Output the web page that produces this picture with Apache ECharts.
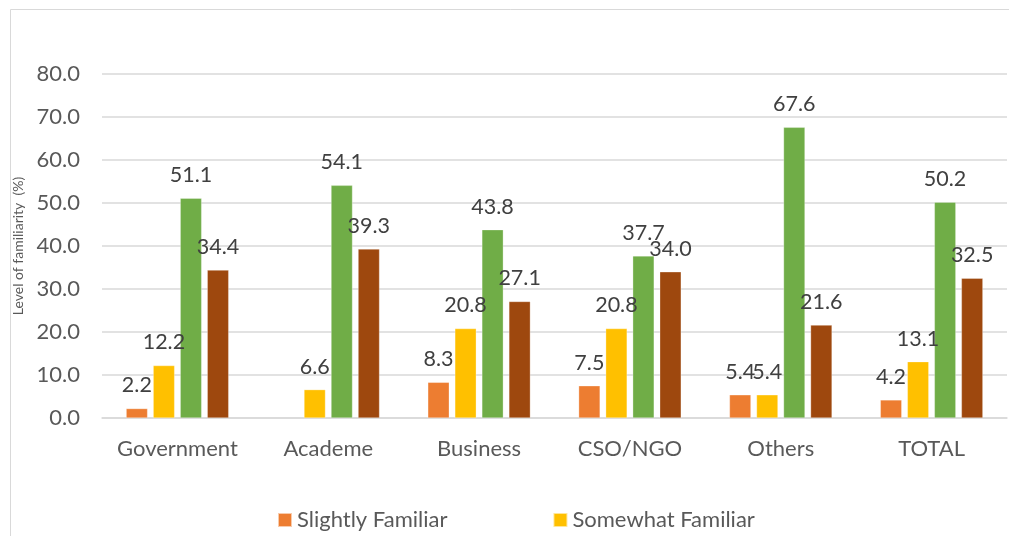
<!DOCTYPE html>
<html>
<head>
<meta charset="utf-8">
<script src="https://cdn.jsdelivr.net/npm/echarts@6/dist/echarts.min.js"></script>
<style>
  html, body { margin: 0; padding: 0; background: #fff; }
  #chart { width: 1009px; height: 536px; }
</style>
</head>
<body>
<div id="chart"></div>
<script>
// sectors and familiarity shares (%)
const sectors = ['Government', 'Academe', 'Business', 'CSO/NGO', 'Others', 'TOTAL'];
const slightly = [2.2, null, 8.3, 7.5, 5.4, 4.2];
const somewhat = [12.2, 6.6, 20.8, 20.8, 5.4, 13.1];
const very = [51.1, 54.1, 43.8, 37.7, 67.6, 50.2];
const extremely = [34.4, 39.3, 27.1, 34.0, 21.6, 32.5];
const yTicks = [0, 10, 20, 30, 40, 50, 60, 70, 80];

const names = ['Slightly Familiar', 'Somewhat Familiar', 'Very Familiar', 'Extremely Familiar'];
const colors = ['#ED7D31', '#FFC000', '#70AD47', '#9E480E'];
const font = 'Lato, "Open Sans", sans-serif';

let myChart = echarts.init(document.getElementById('chart'));

function bar(name, data, color) {
    return {
        name: name,
        type: 'bar',
        data: data,
        barGap: '26%',
        barCategoryGap: '32%',
        itemStyle: { color: color, borderColor: 'rgba(255,255,255,0.6)', borderWidth: 0.5 },
        label: {
            show: true,
            position: 'top',
            distance: 12,
            fontFamily: font,
            fontSize: 21.5,
            color: '#404040',
            formatter: function (p) { return p.value == null ? '' : p.value.toFixed(1); }
        }
    };
}

let option = {
    animation: false,
    textStyle: { fontFamily: font },
    graphic: [{
        type: 'rect',
        shape: { x: 10.5, y: 9.5, width: 1200, height: 700 },
        style: { fill: 'none', stroke: '#d9d9d9', lineWidth: 1 },
        silent: true
    }],
    grid: { left: 102, right: 2, top: 74, bottom: 118 },
    legend: {
        data: names.slice(0, 2),
        left: 272,
        top: 504,
        itemWidth: 14,
        itemHeight: 14,
        itemGap: 105,
        icon: 'rect',
        textStyle: { fontFamily: font, fontSize: 22, color: '#595959' }
    },
    xAxis: {
        type: 'category',
        data: sectors,
        axisLine: { lineStyle: { color: '#d9d9d9', width: 1.5 } },
        axisTick: { show: false },
        axisLabel: { interval: 0, fontFamily: font, fontSize: 22, color: '#595959', margin: 20 }
    },
    yAxis: {
        type: 'value',
        min: yTicks[0],
        max: yTicks[yTicks.length - 1],
        interval: 10,
        name: 'Level of familiarity  (%)',
        nameLocation: 'middle',
        nameGap: 70,
        nameTextStyle: { fontFamily: font, fontSize: 14, color: '#595959' },
        axisLine: { show: false },
        axisTick: { show: false },
        axisLabel: {
            fontFamily: font, fontSize: 22, color: '#595959', margin: 22,
            formatter: function (v) { return v.toFixed(1); }
        },
        splitLine: { lineStyle: { color: '#d9d9d9', width: 1.5 } }
    },
    series: [
        bar(names[0], slightly, colors[0]),
        bar(names[1], somewhat, colors[1]),
        bar(names[2], very, colors[2]),
        bar(names[3], extremely, colors[3])
    ]
};

myChart.setOption(option);
</script>
</body>
</html>
